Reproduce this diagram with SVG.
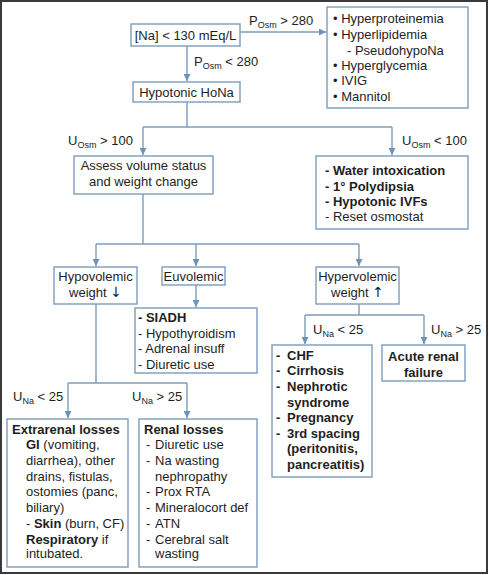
<svg xmlns="http://www.w3.org/2000/svg" width="489" height="575" viewBox="0 0 489 575">
<defs>
<style>
text{font-family:"Liberation Sans",Arial,sans-serif;font-size:13px;fill:#1e1e1e}
.b{font-weight:bold}
.c{text-anchor:middle}
.s{font-size:9px}
.ar{font-family:"DejaVu Sans",sans-serif;font-size:14px}
rect.n{fill:#fff;stroke:#7d9cbb;stroke-width:1.4}
.e{fill:none;stroke:#7d9cbb;stroke-width:1.4}
</style>
<marker id="ah" viewBox="0 0 10 10" refX="10" refY="5" markerWidth="7" markerHeight="7" markerUnits="userSpaceOnUse" orient="auto"><path d="M0,0L10,5L0,10z" fill="#6f93b8"/></marker>
</defs>
<rect x="0" y="0" width="489" height="575" fill="#fff"/>
<rect x="1" y="1" width="486" height="572" fill="none" stroke="#3a3a3a" stroke-width="2"/>
<g id="connectors">
<path class="e" d="M240,32H326" marker-end="url(#ah)"/>
<path class="e" d="M187,46V81" marker-end="url(#ah)"/>
<path class="e" d="M187,102V127M143,127H392"/>
<path class="e" d="M143,127V155" marker-end="url(#ah)"/>
<path class="e" d="M392,127V155" marker-end="url(#ah)"/>
<path class="e" d="M143,194V244M96,244H359"/>
<path class="e" d="M96,244V266" marker-end="url(#ah)"/>
<path class="e" d="M196,244V266" marker-end="url(#ah)"/>
<path class="e" d="M359,244V266" marker-end="url(#ah)"/>
<path class="e" d="M196,285V307" marker-end="url(#ah)"/>
<path class="e" d="M359,304V315M305,315H424"/>
<path class="e" d="M305,315V344" marker-end="url(#ah)"/>
<path class="e" d="M424,315V344" marker-end="url(#ah)"/>
<path class="e" d="M96,304V383M68,383H187"/>
<path class="e" d="M68,383V418" marker-end="url(#ah)"/>
<path class="e" d="M187,383V418" marker-end="url(#ah)"/>
<text x="249" y="25">P<tspan class="s" dy="3">Osm</tspan><tspan dy="-3"> &gt; 280</tspan></text>
<text x="194" y="66">P<tspan class="s" dy="3">Osm</tspan><tspan dy="-3"> &lt; 280</tspan></text>
<text x="68" y="145">U<tspan class="s" dy="3">Osm</tspan><tspan dy="-3"> &gt; 100</tspan></text>
<text x="402" y="145">U<tspan class="s" dy="3">Osm</tspan><tspan dy="-3"> &lt; 100</tspan></text>
<text x="313" y="334">U<tspan class="s" dy="3">Na</tspan><tspan dy="-3"> &lt; 25</tspan></text>
<text x="431" y="334">U<tspan class="s" dy="3">Na</tspan><tspan dy="-3"> &gt; 25</tspan></text>
<text x="13" y="401">U<tspan class="s" dy="3">Na</tspan><tspan dy="-3"> &lt; 25</tspan></text>
<text x="132" y="401">U<tspan class="s" dy="3">Na</tspan><tspan dy="-3"> &gt; 25</tspan></text>
</g>
<g id="na">
<rect class="n" x="131" y="24" width="109" height="22"/>
<text class="c" x="185.5" y="40">[Na] &lt; 130 mEq/L</text>
</g>
<g id="pseudo">
<rect class="n" x="327" y="7" width="141" height="101"/>
<text x="333" y="23">• Hyperproteinemia</text>
<text x="333" y="39">• Hyperlipidemia</text>
<text x="347" y="55">-  PseudohypoNa</text>
<text x="333" y="70">• Hyperglycemia</text>
<text x="333" y="85">• IVIG</text>
<text x="333" y="101">• Mannitol</text>
</g>
<g id="hypotonic">
<rect class="n" x="133" y="82" width="107" height="20"/>
<text class="c" x="186.5" y="97">Hypotonic HoNa</text>
</g>
<g id="assess">
<rect class="n" x="74" y="156" width="139" height="38"/>
<text class="c" x="143.5" y="170">Assess volume status</text>
<text class="c" x="143.5" y="186">and weight change</text>
</g>
<g id="lowuosm">
<rect class="n" x="316" y="156" width="152" height="73"/>
<text x="325" y="175"><tspan class="b">-  Water intoxication</tspan></text>
<text x="325" y="191"><tspan class="b">-  1° Polydipsia</tspan></text>
<text x="325" y="206"><tspan class="b">-  Hypotonic IVFs</tspan></text>
<text x="325" y="221">-  Reset osmostat</text>
</g>
<g id="hypovolemic">
<rect class="n" x="54" y="267" width="83" height="37"/>
<text class="c" x="95.5" y="281">Hypovolemic</text>
<text class="c" x="95.5" y="297">weight <tspan class="ar">↓</tspan></text>
</g>
<g id="euvolemic">
<rect class="n" x="162" y="267" width="63" height="18"/>
<text class="c" x="193.5" y="281">Euvolemic</text>
</g>
<g id="hypervolemic">
<rect class="n" x="316" y="267" width="83" height="37"/>
<text class="c" x="357.5" y="281">Hypervolemic</text>
<text class="c" x="357.5" y="297">weight <tspan class="ar">↑</tspan></text>
</g>
<g id="siadh">
<rect class="n" x="135" y="308" width="122" height="65"/>
<text x="138" y="322" class="b">- SIADH</text>
<text x="138" y="338">- Hypothyroidism</text>
<text x="138" y="353">- Adrenal insuff</text>
<text x="138" y="369">- Diuretic use</text>
</g>
<g id="chf">
<rect class="n" x="272" y="345" width="100" height="132"/>
<text x="276" y="360" class="b">-</text><text x="287" y="360" class="b">CHF</text>
<text x="276" y="375" class="b">-</text><text x="287" y="375" class="b">Cirrhosis</text>
<text x="276" y="391" class="b">-</text><text x="287" y="391" class="b">Nephrotic</text>
<text x="287" y="407" class="b">syndrome</text>
<text x="276" y="422" class="b">-</text><text x="287" y="422" class="b">Pregnancy</text>
<text x="276" y="438" class="b">-</text><text x="287" y="438" class="b">3rd spacing</text>
<text x="287" y="453" class="b">(peritonitis,</text>
<text x="287" y="469" class="b">pancreatitis)</text>
</g>
<g id="arf">
<rect class="n" x="382" y="345" width="83" height="36"/>
<text class="c b" x="423.5" y="361">Acute renal</text>
<text class="c b" x="423.5" y="377">failure</text>
</g>
<g id="extrarenal">
<rect class="n" x="7" y="419" width="121" height="148"/>
<text x="12" y="434" class="b">Extrarenal losses</text>
<text x="26" y="449"><tspan class="b">GI</tspan> (vomiting,</text>
<text x="26" y="465">diarrhea), other</text>
<text x="26" y="481">drains, fistulas,</text>
<text x="26" y="496">ostomies (panc,</text>
<text x="26" y="512">biliary)</text>
<text x="26" y="528">- <tspan class="b">Skin</tspan> (burn, CF)</text>
<text x="26" y="544"><tspan class="b">Respiratory</tspan> if</text>
<text x="26" y="558">intubated.</text>
</g>
<g id="renal">
<rect class="n" x="139" y="419" width="118" height="148"/>
<text x="144" y="434" class="b">Renal losses</text>
<text x="146" y="449">-</text><text x="155" y="449">Diuretic use</text>
<text x="146" y="465">-</text><text x="155" y="465">Na wasting</text>
<text x="155" y="481">nephropathy</text>
<text x="146" y="496">-</text><text x="155" y="496">Prox RTA</text>
<text x="146" y="512">-</text><text x="155" y="512">Mineralocort def</text>
<text x="146" y="528">-</text><text x="155" y="528">ATN</text>
<text x="146" y="544">-</text><text x="155" y="544">Cerebral salt</text>
<text x="155" y="558">wasting</text>
</g>
</svg>
